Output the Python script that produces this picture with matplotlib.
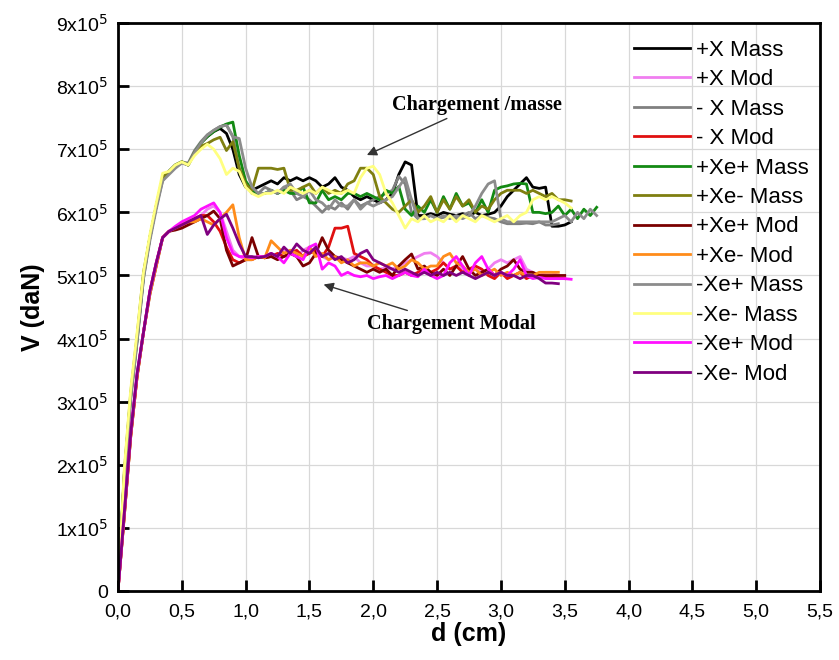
import numpy as np
import matplotlib.pyplot as plt

plt.rcParams['font.family'] = ['Liberation Sans', 'DejaVu Sans']

# values in units of 1e5 daN, sampled every 0.05 cm starting at d = 0
labels = ['+X Mass', '+X Mod', '- X Mass', '- X Mod', '+Xe+ Mass', '+Xe- Mass',
          '+Xe+ Mod', '+Xe- Mod', '-Xe+ Mass', '-Xe- Mass', '-Xe+ Mod', '-Xe- Mod']
colors = ['#000000', '#f07ef0', '#808080', '#e01010', '#138a13', '#7f7f10',
          '#7a0000', '#ff8c1a', '#8c8c8c', '#ffff80', '#ff10ff', '#800080']

px_mass = [0, 1.85, 3.1, 4.0, 5.0, 5.6, 6.1, 6.55,
           6.65, 6.75, 6.8, 6.75, 6.95, 7.1, 7.2, 7.28, 7.33, 7.25, 7.0, 6.6,
           6.4, 6.35, 6.4, 6.45, 6.5, 6.45, 6.55, 6.5, 6.55, 6.5, 6.55, 6.5, 6.4, 6.45, 6.55, 6.4, 6.35, 6.25, 6.2, 6.25,
           6.2, 6.15, 6.2, 6.3, 6.6, 6.8, 6.75, 5.95, 5.95, 5.98, 5.95, 6.0, 5.97, 5.95, 5.98, 5.95, 6.0, 5.95, 5.97, 6.0,
           6.1, 6.25, 6.35, 6.45, 6.55, 6.4, 6.38, 6.4, 5.78, 5.78, 5.8, 5.85]
px_mod = [0, 1.25, 2.5, 3.45, 4.1, 4.75, 5.2, 5.6,
          5.7, 5.75, 5.8, 5.85, 5.9, 5.95, 6.05, 6.1, 6.0, 5.7, 5.4, 5.3,
          5.25, 5.28, 5.3, 5.3, 5.35, 5.3, 5.4, 5.35, 5.3, 5.4, 5.45, 5.35, 5.3, 5.25, 5.3, 5.28, 5.25, 5.3, 5.2, 5.15,
          5.15, 5.1, 5.12, 5.1, 5.15, 5.2, 5.25, 5.3, 5.35, 5.36, 5.3, 5.2, 5.1, 5.15, 5.1, 5.05, 5.1, 5.05, 5.1, 5.2,
          5.25, 5.2, 5.25, 5.3, 5.1, 5.05, 5.0, 5.05, 5.05, 5.0]
mx_mass = [0, 1.8, 3.05, 3.95, 4.95, 5.6, 6.1, 6.5,
           6.65, 6.75, 6.8, 6.78, 6.98, 7.12, 7.23, 7.3, 7.36, 7.39, 7.2, 6.7,
           6.45, 6.3, 6.3, 6.4, 6.35, 6.3, 6.4, 6.35, 6.2, 6.25, 6.2, 6.1, 6.0, 6.1, 6.05, 6.15, 6.05, 6.2, 6.1, 6.15,
           6.2, 6.25, 6.3, 6.35, 6.57, 6.45, 6.0, 5.9, 5.9, 5.95, 5.9, 5.92, 5.95, 5.9, 5.95, 6.0, 5.9, 5.95, 5.92, 5.9,
           5.85, 5.82, 5.82, 5.82, 5.83, 5.82, 5.85, 5.8, 5.8, 5.82]
mx_mod = [0, 1.2, 2.45, 3.4, 4.1, 4.75, 5.2, 5.6,
          5.7, 5.75, 5.8, 5.85, 5.9, 5.95, 5.95, 5.85, 5.7, 5.45, 5.25, 5.2,
          5.25, 5.25, 5.3, 5.28, 5.3, 5.35, 5.3, 5.35, 5.4, 5.3, 5.35, 5.4, 5.3, 5.45, 5.75, 5.75, 5.78, 5.35, 5.3, 5.25,
          5.15, 5.1, 5.05, 5.0, 5.0, 5.05, 5.0, 5.05, 5.1, 5.05, 5.1, 5.2, 5.1, 5.15, 5.05, 5.1, 5.15, 5.1, 5.0, 4.95,
          5.05, 4.95, 5.0, 5.05, 4.95, 5.0, 5.0, 4.98, 4.97, 4.96, 4.95]
pxep_mass = [0, 1.85, 3.1, 4.0, 5.0, 5.6, 6.1, 6.55,
             6.65, 6.75, 6.8, 6.75, 6.95, 7.1, 7.2, 7.28, 7.35, 7.4, 7.43, 6.9,
             6.5, 6.35, 6.3, 6.3, 6.35, 6.3, 6.35, 6.3, 6.3, 6.4, 6.15, 6.15, 6.35, 6.2, 6.25, 6.2, 6.3, 6.3, 6.25, 6.3,
             6.25, 6.2, 6.35, 6.3, 6.41, 6.05, 5.95, 6.1, 6.0, 6.2, 6.0, 6.25, 6.05, 6.3, 6.1, 6.15, 6.0, 6.2, 6.0, 6.35,
             6.4, 6.42, 6.45, 6.46, 6.45, 6.0, 6.0, 5.98, 6.0, 6.1, 5.95, 6.05, 5.9, 6.05, 5.95, 6.08]
pxem_mass = [0, 1.9, 3.15, 4.05, 5.05, 5.6, 6.1, 6.55,
             6.65, 6.75, 6.8, 6.75, 6.95, 7.05, 7.09, 7.15, 7.19, 6.98, 7.12, 6.7,
             6.45, 6.35, 6.7, 6.7, 6.7, 6.68, 6.7, 6.35, 6.35, 6.4, 6.45, 6.3, 6.4, 6.3, 6.35, 6.3, 6.45, 6.5, 6.7, 6.7,
             6.6, 6.25, 6.15, 6.05, 6.0, 6.1, 6.2, 6.0, 6.1, 6.25, 6.0, 6.2, 6.05, 6.25, 6.1, 6.2, 6.0, 6.1, 6.05, 6.2,
             6.3, 6.35, 6.35, 6.35, 6.3, 6.35, 6.3, 6.25, 6.3, 6.2, 6.2, 6.18]
pxep_mod = [0, 1.2, 2.45, 3.4, 4.1, 4.7, 5.15, 5.6,
            5.7, 5.72, 5.75, 5.8, 5.85, 5.9, 5.95, 6.02, 5.9, 5.4, 5.15, 5.2,
            5.25, 5.6, 5.3, 5.28, 5.3, 5.25, 5.3, 5.35, 5.3, 5.15, 5.2, 5.35, 5.6, 5.4, 5.3, 5.25, 5.2, 5.15, 5.1, 5.05,
            5.1, 5.05, 5.1, 5.0, 5.15, 5.25, 5.34, 5.1, 5.15, 5.05, 5.0, 5.1, 5.0, 5.15, 5.3, 5.1, 5.0, 5.05, 5.1, 5.0,
            5.1, 5.15, 5.25, 5.1, 5.05, 5.05, 5.0, 5.0, 5.0, 5.0, 5.0]
pxem_mod = [0, 1.2, 2.45, 3.4, 4.1, 4.7, 5.15, 5.6,
            5.7, 5.75, 5.8, 5.85, 5.85, 5.9, 5.85, 5.8, 5.9, 6.0, 6.12, 5.6,
            5.25, 5.25, 5.3, 5.28, 5.55, 5.45, 5.35, 5.4, 5.35, 5.3, 5.45, 5.3, 5.35, 5.25, 5.3, 5.2, 5.25, 5.15, 5.2, 5.2,
            5.15, 5.2, 5.15, 5.2, 5.1, 5.15, 5.25, 5.2, 5.1, 5.15, 5.15, 5.3, 5.35, 5.2, 5.15, 5.05, 5.1, 5.0, 5.05, 5.1,
            5.0, 5.05, 5.0, 5.05, 5.0, 5.0, 5.05, 5.05, 5.05, 5.05]
mxep_mass = [0, 1.8, 3.05, 3.95, 4.95, 5.55, 6.05, 6.5,
             6.6, 6.7, 6.78, 6.75, 6.95, 7.1, 7.22, 7.3, 7.36, 7.38, 7.2, 7.17,
             6.7, 6.4, 6.3, 6.3, 6.35, 6.3, 6.4, 6.45, 6.3, 6.25, 6.35, 6.2, 6.15, 6.05, 6.2, 6.1, 6.1, 6.2, 6.05, 6.15,
             6.1, 6.15, 6.2, 6.25, 6.4, 6.55, 6.2, 5.9, 5.9, 5.95, 5.9, 5.95, 5.9, 5.95, 5.9, 5.95, 6.1, 6.3, 6.45, 6.5,
             5.9, 5.85, 5.85, 5.85, 5.85, 5.85, 5.85, 5.85, 5.85, 5.9, 5.95, 5.85, 6.0, 5.9, 6.05, 5.95]
mxem_mass = [0, 1.95, 3.2, 4.1, 5.05, 5.65, 6.15, 6.62,
             6.65, 6.75, 6.8, 6.75, 6.9, 7.0, 7.08, 7.0, 6.85, 6.6, 6.7, 6.65,
             6.4, 6.3, 6.25, 6.3, 6.3, 6.35, 6.3, 6.4, 6.35, 6.3, 6.35, 6.3, 6.4, 6.35, 6.3, 6.3, 6.35, 6.3, 6.55, 6.7,
             6.73, 6.6, 6.3, 6.15, 5.95, 5.75, 5.9, 5.85, 5.95, 5.85, 5.9, 5.85, 5.95, 5.85, 5.95, 5.9, 5.85, 5.95, 5.9, 5.85,
             5.9, 5.95, 5.85, 5.95, 6.0, 6.2, 6.25, 6.2, 6.25, 6.2, 6.15, 6.07]
mxep_mod = [0, 1.25, 2.5, 3.45, 4.1, 4.75, 5.2, 5.6,
            5.7, 5.78, 5.85, 5.9, 5.95, 6.05, 6.1, 6.15, 6.0, 5.6, 5.35, 5.3,
            5.3, 5.28, 5.3, 5.3, 5.35, 5.3, 5.2, 5.35, 5.3, 5.25, 5.45, 5.5, 5.1, 5.2, 5.15, 5.0, 5.05, 5.0, 4.98, 5.0,
            4.95, 4.98, 5.0, 4.95, 5.0, 5.05, 5.0, 4.98, 5.1, 5.0, 4.95, 5.0, 5.2, 5.3, 5.15, 5.0, 5.2, 5.3, 5.1, 5.0,
            5.05, 5.0, 5.1, 5.25, 5.0, 4.95, 4.97, 4.95, 4.95, 4.95, 4.95, 4.94]
mxem_mod = [0, 1.25, 2.5, 3.45, 4.1, 4.75, 5.2, 5.6,
            5.7, 5.75, 5.8, 5.85, 5.9, 5.95, 5.65, 5.8, 5.9, 5.97, 5.75, 5.5,
            5.3, 5.3, 5.28, 5.3, 5.35, 5.3, 5.45, 5.35, 5.5, 5.4, 5.35, 5.45, 5.3, 5.35, 5.25, 5.3, 5.2, 5.25, 5.35, 5.4,
            5.25, 5.2, 5.15, 5.1, 5.05, 5.1, 5.05, 5.0, 5.05, 5.0, 5.05, 5.0, 5.05, 5.0, 5.05, 5.0, 4.95, 5.0, 5.05, 5.0,
            5.05, 5.0, 5.0, 4.95, 5.0, 5.0, 4.95, 4.88, 4.88, 4.87]

series = [px_mass, px_mod, mx_mass, mx_mod, pxep_mass, pxem_mass,
          pxep_mod, pxem_mod, mxep_mass, mxem_mass, mxep_mod, mxem_mod]
step = 0.05

fig = plt.figure(figsize=(8.39, 6.6), dpi=100)
ax = fig.add_axes([0.1406, 0.1045, 0.8368, 0.8606])

for lab, col, v in zip(labels, colors, series):
    v = np.array(v) * 1e5
    d = np.arange(len(v)) * step
    ax.plot(d, v, color=col, lw=2, label=lab)

ax.set_xlim(0, 5.5)
ax.set_ylim(0, 9e5)
xt = np.arange(0, 5.51, 0.5)
ax.set_xticks(xt)
ax.set_xticklabels([f'{t:.1f}'.replace('.', ',') for t in xt])
yt = np.arange(0, 10) * 1e5
ax.set_yticks(yt)
ax.set_yticklabels(['0'] + [f'{i}x10$^{{5}}$' for i in range(1, 10)])
ax.tick_params(direction='in', length=8, width=2, labelsize=14, pad=7)
ax.tick_params(axis='x', pad=9)
ax.grid(True, color='#d8d8d8', lw=0.9)
for s in ax.spines.values():
    s.set_linewidth(2)

ax.set_xlabel('d (cm)', fontsize=18, fontweight='bold', labelpad=1)
ax.set_ylabel('V (daN)', fontsize=18, fontweight='bold', labelpad=8)

ax.legend(loc='upper right', bbox_to_anchor=(1.0, 0.99), frameon=False, fontsize=16,
          handlelength=2.5, handletextpad=0.3, labelspacing=0.38, borderaxespad=0.1)

ax.annotate('Chargement /masse', xy=(1.93, 6.89e5), xytext=(2.15, 7.55e5),
            fontsize=14.5, fontweight='bold', family='Liberation Serif', va='bottom',
            arrowprops=dict(arrowstyle='-|>', color='#333333', lw=1))
ax.annotate('Chargement Modal', xy=(1.59, 4.87e5), xytext=(1.95, 4.23e5),
            fontsize=14.5, fontweight='bold', family='Liberation Serif', va='center',
            arrowprops=dict(arrowstyle='-|>', color='#333333', lw=1))

fig.savefig('out.png', dpi=100)
